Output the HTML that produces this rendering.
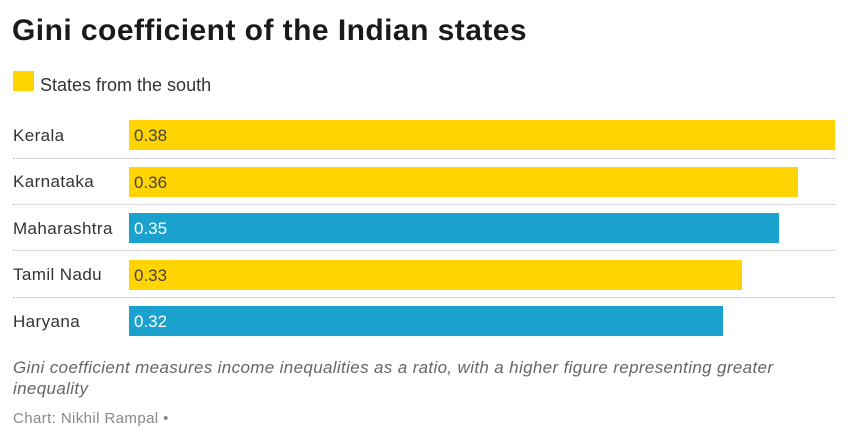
<!DOCTYPE html>
<html><head><meta charset="utf-8"><style>
body{margin:0;width:853px;height:443px;background:#fff;font-family:"Liberation Sans",sans-serif;position:relative;overflow:hidden}
.a{position:absolute;white-space:nowrap}
.t{left:12px;top:14px;font-size:30px;font-weight:bold;color:#1a1a1a;letter-spacing:0.45px}
.lab{left:13px;font-size:17px;color:#333;letter-spacing:0.4px}
.bar{position:absolute;left:129px;height:30px}
.bar span{position:absolute;left:5px;top:6px;font-size:17px}
.y{background:#ffd400;color:#444}.b{background:#1aa1cd;color:#fff}
.dot{position:absolute;left:13px;width:822px;border-top:1px dotted #bbb}
</style></head><body>
<div class="a t">Gini coefficient of the Indian states</div>
<div class="a" style="left:13px;top:71px;width:21px;height:20px;background:#ffd400"></div>
<div class="a" style="left:40px;top:75px;font-size:18px;color:#333">States from the south</div>

<div class="a lab" style="top:126px">Kerala</div>
<div class="bar y" style="top:120px;width:706px"><span>0.38</span></div>
<div class="dot" style="top:158px"></div>
<div class="a lab" style="top:172px">Karnataka</div>
<div class="bar y" style="top:167px;width:669px"><span>0.36</span></div>
<div class="dot" style="top:204px"></div>
<div class="a lab" style="top:219px">Maharashtra</div>
<div class="bar b" style="top:213px;width:650px"><span>0.35</span></div>
<div class="dot" style="top:250px"></div>
<div class="a lab" style="top:265px">Tamil Nadu</div>
<div class="bar y" style="top:260px;width:613px"><span>0.33</span></div>
<div class="dot" style="top:297px"></div>
<div class="a lab" style="top:312px">Haryana</div>
<div class="bar b" style="top:306px;width:594px"><span>0.32</span></div>

<div class="a" style="left:13px;top:357px;font-size:17px;font-style:italic;color:#666;line-height:21px;white-space:normal;width:790px;letter-spacing:0.35px">Gini coefficient measures income inequalities as a ratio, with a higher figure representing greater inequality</div>
<div class="a" style="left:13px;top:410px;font-size:15px;color:#888;letter-spacing:0.4px">Chart: Nikhil Rampal •</div>
</body></html>
